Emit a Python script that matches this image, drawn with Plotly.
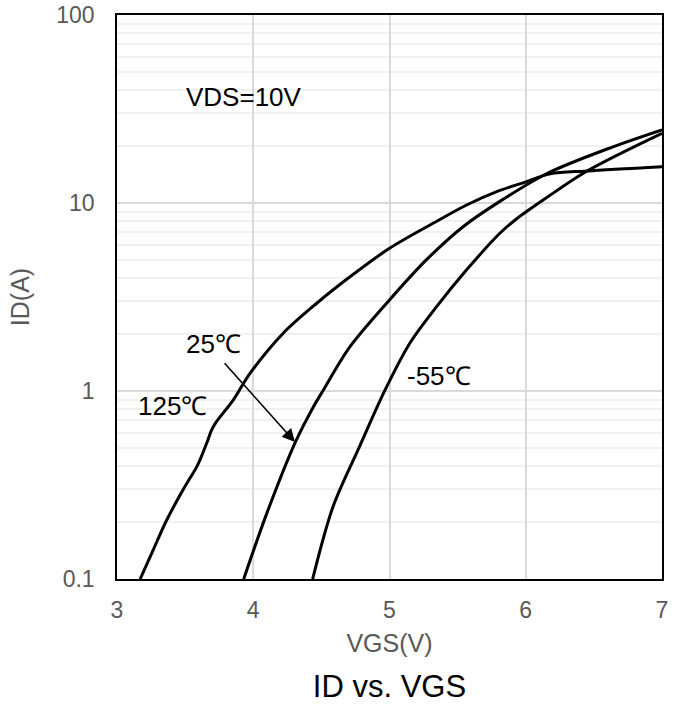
import numpy as np
import plotly.graph_objects as go

# ---- data ----
vgs_125 = [3.17, 3.266, 3.365, 3.487, 3.585, 3.609, 3.658, 3.695, 3.73, 3.853, 3.976,
           4.22, 4.466, 4.71, 5.0, 5.32, 5.566, 5.787, 5.98, 6.18, 6.45, 7.0]
id_125 = [0.1, 0.143, 0.206, 0.30, 0.395, 0.43, 0.527, 0.621, 0.687, 0.895, 1.24,
          2.03, 2.93, 4.05, 5.74, 7.8, 9.76, 11.5, 12.8, 14.3, 14.8, 15.6]

vgs_25 = [3.93, 4.10, 4.31, 4.44, 4.514, 4.71, 5.0, 5.27, 5.54, 5.81, 6.16, 6.64, 7.0]
id_25 = [0.1, 0.224, 0.536, 0.82, 1.01, 1.72, 3.05, 4.98, 7.48, 10.2, 14.4, 19.9, 24.5]

vgs_m55 = [4.436, 4.586, 4.78, 4.967, 5.15, 5.346, 5.566, 5.81, 5.92, 6.13, 6.45, 7.0]
id_m55 = [0.1, 0.243, 0.506, 1.01, 1.80, 2.81, 4.41, 6.9, 8.1, 10.4, 14.8, 23.5]

x_ticks = [3, 4, 5, 6, 7]
y_ticks = [0.1, 1, 10, 100]
y_tick_labels = ["0.1", "1", "10", "100"]
y_minor = [m * d for d in (0.1, 1, 10) for m in range(2, 10)]

# annotation anchors (data units)
label_vds = (3.93, 36.7)
label_25 = (3.71, 1.78)
label_125 = (3.41, 0.832)
label_m55 = (5.363, 1.20)
arrow_tail = (3.78, 1.43)
arrow_head = (4.306, 0.536)

FONT = "Liberation Sans, Arial, sans-serif"
GRAY = "#595959"

fig = go.Figure()
for xs, ys, name in [(vgs_125, id_125, "125℃"), (vgs_25, id_25, "25℃"), (vgs_m55, id_m55, "-55℃")]:
    fig.add_trace(go.Scatter(x=xs, y=ys, mode="lines", name=name,
                             line=dict(color="black", width=3, shape="spline", smoothing=0.9),
                             showlegend=False, hoverinfo="x+y+name"))

def ann(pos, text):
    return dict(x=pos[0], y=np.log10(pos[1]), xref="x", yref="y", text=text,
                showarrow=False, font=dict(family=FONT, size=26, color="black"),
                xanchor="center", yanchor="middle")

annotations = [ann(label_vds, "VDS=10V"), ann(label_25, "25℃"),
               ann(label_125, "125℃"), ann(label_m55, "-55℃"),
               dict(x=arrow_head[0], y=np.log10(arrow_head[1]), xref="x", yref="y",
                    ax=arrow_tail[0], ay=np.log10(arrow_tail[1]), axref="x", ayref="y",
                    text="", showarrow=True, arrowhead=2, arrowsize=1.6, arrowwidth=1.6,
                    arrowcolor="black", standoff=0, startstandoff=0)]

fig.update_layout(
    width=679, height=706,
    margin=dict(l=117, r=17, t=15, b=127, autoexpand=False),
    paper_bgcolor="white", plot_bgcolor="white",
    font=dict(family=FONT, color=GRAY),
    title=dict(text="ID vs. VGS", x=0.5, xref="paper", y=1 - 686 / 706, yref="container",
               xanchor="center", yanchor="middle", automargin=False,
               font=dict(family=FONT, size=31, color="black")),
    annotations=annotations,
)

fig.update_xaxes(
    range=[3, 7], tickvals=x_ticks, ticktext=[str(v) for v in x_ticks],
    showgrid=True, gridcolor="#d9d9d9", gridwidth=1.5, automargin=False,
    showline=True, linecolor="black", linewidth=1.5, mirror=True,
    ticks="", ticklabelstandoff=10, zeroline=False,
    tickfont=dict(family=FONT, size=23, color=GRAY),
    title=dict(text="VGS(V)", standoff=12, font=dict(family=FONT, size=25, color=GRAY)),
)
fig.update_yaxes(
    type="log", range=[-1, 2], tickvals=y_ticks, ticktext=y_tick_labels,
    showgrid=True, gridcolor="#d9d9d9", gridwidth=1.5, automargin=False,
    minor=dict(tickvals=y_minor, showgrid=True, gridcolor="#f0f0f0", gridwidth=1.5, ticks=""),
    showline=True, linecolor="black", linewidth=1.5, mirror=True,
    ticks="", ticklabelstandoff=16, zeroline=False,
    tickfont=dict(family=FONT, size=23, color=GRAY),
    title=dict(text="ID(A)", standoff=20, font=dict(family=FONT, size=25, color=GRAY)),
)

fig.write_html("out.html", config={"displayModeBar": False},
               post_script="document.body.style.margin='0px';")
